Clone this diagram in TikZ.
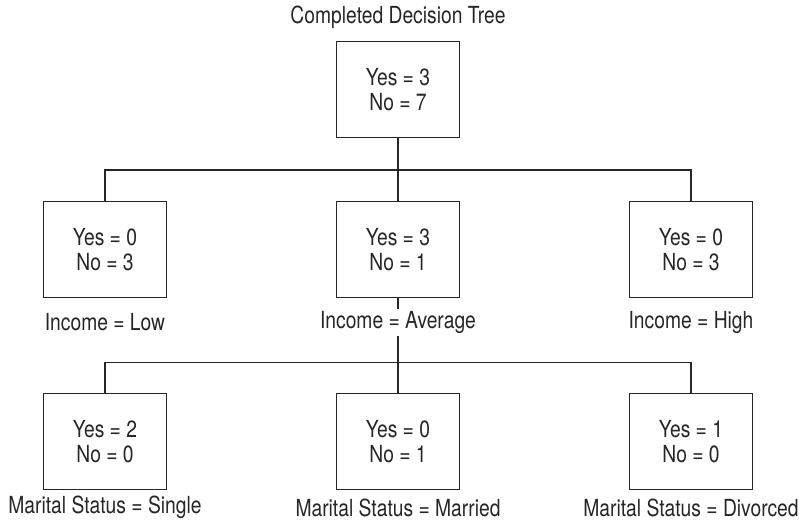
\documentclass[tikz,border=0pt]{standalone}
\usepackage{fontspec}
\setmainfont{TeX Gyre Heros}[FakeStretch=0.82]
\definecolor{ink}{HTML}{262626}
\begin{document}
\begin{tikzpicture}[x=1pt,y=-1pt,
  every node/.style={text=ink,font=\fontsize{23.5}{25}\selectfont},
  treebox/.style={draw=ink,line width=1.8pt,minimum width=123pt,minimum height=96pt,
    align=center,inner sep=0pt},
  branch/.style={draw=ink,line width=1.8pt},
  caption/.style={fill=white,inner sep=2pt}]
\useasboundingbox (0,0) rectangle (799,526);

\node (title) at (398,17) {Completed Decision Tree};

% root and first split on income
\node[treebox] (root) at (398,89.5) {Yes = 3\\No = 7};
\node[treebox] (low)  at (105,249.5) {Yes = 0\\No = 3};
\node[treebox] (avg)  at (398,249.5) {Yes = 3\\No = 1};
\node[treebox] (high) at (691,249.5) {Yes = 0\\No = 3};

% second split on marital status
\node[treebox] (single)   at (105,441.5) {Yes = 2\\No = 0};
\node[treebox] (married)  at (398,441.5) {Yes = 0\\No = 1};
\node[treebox] (divorced) at (691,441.5) {Yes = 1\\No = 0};

\coordinate (j1) at (398,170);
\coordinate (j2) at (398,362.5);

\draw[branch] (root) -- (j1);
\draw[branch] (j1) -| (low.north);
\draw[branch] (j1) -| (high.north);
\draw[branch] (j1) -- (avg);

\draw[branch] (avg) -- (j2);
\draw[branch] (j2) -| (single.north);
\draw[branch] (j2) -| (divorced.north);
\draw[branch] (j2) -- (married);

\node[caption] (lowlbl)  at (105,322.5) {Income = Low};
\node[caption] (avglbl)  at (398,322.5) {Income = Average};
\node[caption] (highlbl) at (691,322.5) {Income = High};

\node[caption] (singlelbl)   at (105,507.5) {Marital Status = Single};
\node[caption] (marriedlbl)  at (398,507.5) {Marital Status = Married};
\node[caption] (divorcedlbl) at (691,507.5) {Marital Status = Divorced};
\end{tikzpicture}
\end{document}
